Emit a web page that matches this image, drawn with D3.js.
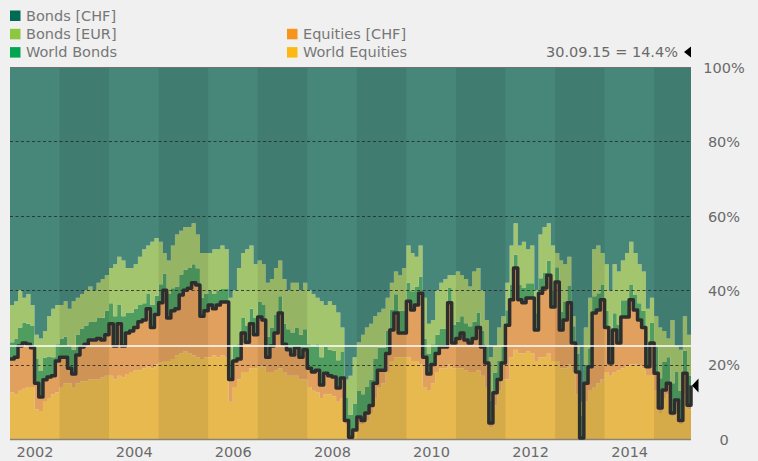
<!DOCTYPE html>
<html>
<head>
<meta charset="utf-8">
<script src="https://cdnjs.cloudflare.com/ajax/libs/d3/7.8.5/d3.min.js"></script>
<style>
body { margin: 0; background: #f0f0f0; }
svg { display: block; font-family: "DejaVu Sans", Verdana, sans-serif; }
</style>
</head>
<body>
<svg></svg>
<script>
var svgWidth = 758;
var svgHeight = 461;
var plot = { left: 10, right: 691, top: 67, bottom: 439 };

/* monthly observations, Jan 2002 .. Sep 2015, plus the closing value of 30.09.15 */
var firstMonth = new Date(2002, 0, 1);
var afterLastMonth = new Date(2015, 9, 1);
var lastDate = new Date(2015, 8, 30);

var worldEquities = [
  12.5, 12, 13, 13.5, 14, 14, 8, 7.5, 10, 11, 12, 12.5,
  14, 15, 15, 14, 15, 15.5, 15.5, 16, 16, 16, 16.5, 17,
  17, 16, 17, 16.5, 17.5, 18, 18.5, 18.5, 19, 19.5, 19, 20,
  20.5, 21, 21, 21.5, 22.5, 23, 23.5, 23, 22.5, 22, 21.5, 22,
  22, 22.5, 22, 22.5, 22, 10, 14, 16, 18, 18, 19, 19,
  19.5, 19.5, 18, 18, 18.5, 19, 18, 17, 17, 17, 16, 16,
  14, 13, 12.5, 11, 12, 12, 11.5, 10, 11, 4, 0.5, 2,
  4, 4, 5, 7, 11, 14, 15, 18, 21, 22, 22, 22,
  22, 21, 21, 20, 14, 13, 15, 18, 19, 19, 20, 19,
  19, 19, 18.5, 18, 18, 18.5, 17, 14, 3, 9, 13, 16,
  16, 22, 24, 23, 23, 23.5, 23, 21, 22, 22, 23, 21,
  21, 19, 19, 20, 18, 12, 0.3, 10, 13, 14, 15, 16,
  18, 17, 18, 18.5, 19, 19.5, 20, 20, 19.5, 19, 17, 17,
  13, 7, 11, 12, 6, 9, 4, 12, 8,
  12
];

/* World Equities + Equities [CHF] (the black line) */
var totalEquity = [
  21.5, 22, 25, 25.8, 25.5, 24.5, 15, 11.3, 15.9, 16.7, 17, 21,
  22, 22, 19, 17.5, 22.6, 24.7, 25.5, 26.6, 26.6, 27, 26.6, 28,
  31, 25, 31, 25, 28.5, 29, 30, 31.5, 32, 35, 30, 33.5,
  36.6, 40, 32.5, 34.5, 35, 38.7, 40, 40.5, 42, 41.4, 33, 34.5,
  36, 35, 36, 36.8, 36.8, 16, 21, 21.5, 28.5, 26, 31, 28,
  32.8, 32, 22, 25, 28.5, 33.9, 25.5, 24, 22.6, 24.5, 22, 24,
  19, 18, 18.5, 14.5, 17.7, 17, 16.7, 13.7, 16.4, 5, 0.5, 2.4,
  5.9, 5, 7, 9, 15, 18.5, 18.5, 23, 29.3, 33.9, 28.5, 28.5,
  37, 34.7, 36, 39.2, 22, 17.5, 20, 23, 24.7, 24.7, 36.6, 25.8,
  27, 28.5, 26.6, 25.8, 27, 30, 24.7, 20.4, 4.3, 12.4, 16, 20.4,
  30.6, 37.4, 46, 37.4, 36.6, 37.9, 37.9, 29.3, 39.2, 40.6, 44, 35.5,
  42.2, 29.3, 32, 36.6, 25.8, 18, 0.3, 15, 19.4, 33.9, 34.7, 37.4,
  30, 20.4, 29.3, 25.8, 32.8, 32.8, 37.4, 34.7, 32, 30, 19.4, 25.8,
  17.7, 8.3, 13.2, 15, 7, 10.5, 5, 17.7, 9.1,
  14.4
];

var worldBonds = [
  4.5, 5, 5, 5.5, 5.5, 6, 6.5, 7, 6, 5.5, 5, 4.5,
  5, 5.5, 6, 6.5, 5.5, 5, 5, 5, 5, 5.5, 6, 6.5,
  5.5, 8, 5, 8, 5.5, 5, 5, 4.5, 4.5, 4, 6, 5,
  5, 4.5, 6.5, 6, 6, 5.5, 5.5, 5.5, 5, 4.5, 5, 4.5,
  4, 4, 4, 3.5, 3.5, 5, 4, 4, 4, 4.5, 4, 4.5,
  4, 4, 5.5, 5, 5, 4.5, 5.5, 5.5, 6, 5.5, 6, 5.5,
  6.5, 7, 7, 7.5, 7, 7, 7, 7.5, 7, 6, 6, 7,
  7, 7, 7, 7, 6.5, 6, 6, 6, 5.5, 5, 6, 6,
  5, 5, 5, 4.5, 5, 5.5, 5.5, 5, 5, 5, 4, 5,
  4.5, 4.5, 4.5, 4.5, 4.5, 4, 4.5, 5, 6, 5.5, 5, 4.5,
  4, 4, 3.5, 4, 4, 4, 4, 4.5, 4, 4, 4, 4.5,
  4, 5, 5, 4.5, 4.5, 5, 6, 5, 5, 4.5, 4.5, 4,
  4.5, 5, 4.5, 5, 4.5, 4.5, 4, 4, 4.5, 4.5, 6, 5.5,
  7, 8, 7.5, 7, 8, 7.5, 8, 6, 8,
  7
];

var bondsEUR = [
  10, 10, 10, 6.7, 8, 5.5, 6.5, 8.7, 7.1, 10.8, 13, 10.5,
  9, 9.5, 10, 13, 9.9, 9.3, 9.5, 9.4, 8.4, 9.5, 10.4, 9.5,
  9.5, 14, 13, 15, 12, 12, 12, 13, 14.5, 13, 17, 15.5,
  11.4, 5.5, 9, 11.5, 14, 11.8, 11.5, 11, 11, 9.1, 12, 11,
  10, 12, 11, 11.7, 10.7, 17, 15, 20.5, 17.5, 20.5, 17, 14.5,
  11.2, 11, 14.5, 13, 12.5, 9.6, 12, 10.5, 13.4, 12, 12, 12.5,
  14.5, 14, 12.5, 15, 11.3, 13, 12.3, 12.8, 6.6, 5, 10.5, 12.6,
  13.1, 16, 16, 15, 11.5, 9.5, 10.5, 9, 7.2, 6.1, 9.5, 11.5,
  10, 10.3, 8, 8.3, 11, 8, 6.5, 12, 12.3, 13.3, 3.4, 13.2,
  13.5, 11, 11.9, 10.7, 13.5, 12, 10.8, 6.6, 11.7, 7.1, 9, 8.1,
  7.4, 10.6, 8.5, 10.6, 12.4, 9.1, 10.1, 6.2, 11.8, 12.4, 10, 12,
  3.8, 13.7, 10, 7.9, 2.7, 2, 3.7, 10, 13.6, 12.6, 12.8, 8.6,
  12.5, 14.6, 13.2, 14.2, 10.7, 12.7, 11.6, 11.3, 10.5, 10.5, 9.6, 6.7,
  8.3, 13.7, 8.3, 5, 17, 7, 11, 9.3, 10.9,
  6.6
];

var seriesKeys = ['worldEquities', 'equitiesCHF', 'worldBonds', 'bondsEUR', 'bondsCHF'];
var areaColors = ['#e8b94f', '#e2a05e', '#4f9d5f', '#a2c56e', '#46877a'];

var legendNames = ['Bonds [CHF]', 'Bonds [EUR]', 'World Bonds', 'Equities [CHF]', 'World Equities'];
var legendColors = ['#006b54', '#8dc63f', '#00a651', '#f7941d', '#fdb913'];
var legendCols = [0, 0, 0, 1, 1];
var legendRows = [0, 1, 2, 1, 2];

var yTicks = [0, 20, 40, 60, 80, 100];
var gridTicks = [20, 40, 60, 80];
var xTickYears = [2002, 2004, 2006, 2008, 2010, 2012, 2014];
var bandYears = [2002, 2003, 2004, 2005, 2006, 2007, 2008, 2009, 2010, 2011, 2012, 2013, 2014, 2015];
var referenceLevel = 25;
var lastLabel = '30.09.15 = 14.4%';

var svg = d3.select('svg')
    .attr('width', svgWidth)
    .attr('height', svgHeight)
    .style('background', '#f0f0f0');

var dates = d3.timeMonth.range(firstMonth, afterLastMonth);
dates.push(lastDate);

var x = d3.scaleTime().domain([firstMonth, lastDate]).range([plot.left, plot.right]);
var y = d3.scaleLinear().domain([0, 100]).range([plot.bottom, plot.top]);

/* Build rows for the stack */
function buildRows(){
    return dates.map((d, i) => ({
        date: d,
        worldEquities: worldEquities[i],
        equitiesCHF: totalEquity[i] - worldEquities[i],
        worldBonds: worldBonds[i],
        bondsEUR: bondsEUR[i],
        bondsCHF: 100 - totalEquity[i] - worldBonds[i] - bondsEUR[i]
    }));
}

/* Draw stacked areas */
function drawAreas(){
    var stacked = d3.stack().keys(seriesKeys)(buildRows());
    var area = d3.area()
        .x(d => x(d.data.date))
        .y0(d => y(d[0]))
        .y1(d => y(d[1]))
        .curve(d3.curveStepAfter);

    svg.append('g').selectAll('path')
        .data(stacked)
        .enter()
        .append('path')
        .attr('d', area)
        .style('fill', (d, i) => areaColors[i]);
}

/* Darken every other year */
function drawBands(){
    svg.append('g').selectAll('rect')
        .data(bandYears.filter(yr => yr % 2 === 1))
        .enter()
        .append('rect')
        .attr('x', yr => x(new Date(yr, 0, 1)))
        .attr('width', yr => x(d3.min([new Date(yr + 1, 0, 1), lastDate])) - x(new Date(yr, 0, 1)))
        .attr('y', plot.top)
        .attr('height', plot.bottom - plot.top)
        .style('fill', '#000')
        .style('opacity', 0.08);
}

function drawGrid(){
    svg.append('g').selectAll('line')
        .data(gridTicks)
        .enter()
        .append('line')
        .attr('x1', plot.left)
        .attr('x2', plot.right)
        .attr('y1', d => Math.round(y(d)) + 0.5)
        .attr('y2', d => Math.round(y(d)) + 0.5)
        .style('stroke', '#2b2b2b')
        .style('stroke-width', 1.2)
        .style('stroke-dasharray', '3,2.5')
        .style('opacity', 0.85);

    svg.append('line')
        .attr('x1', plot.left).attr('x2', plot.right)
        .attr('y1', plot.top + 0.5).attr('y2', plot.top + 0.5)
        .style('stroke', '#707070');

    svg.append('line')
        .attr('x1', plot.left).attr('x2', plot.right)
        .attr('y1', plot.bottom + 0.5).attr('y2', plot.bottom + 0.5)
        .style('stroke', '#8a8572')
        .style('stroke-width', 1.5);
}

function drawEquityLine(){
    var line = d3.line()
        .x(d => x(d.date))
        .y(d => y(d.value))
        .curve(d3.curveStepAfter);

    svg.append('path')
        .datum(dates.map((d, i) => ({ date: d, value: totalEquity[i] })))
        .attr('d', line)
        .style('fill', 'none')
        .style('stroke', '#2e2e2e')
        .style('stroke-width', 3.5)
        .style('stroke-linejoin', 'round');

    // white reference line stays on top
    svg.append('line')
        .attr('x1', plot.left).attr('x2', plot.right)
        .attr('y1', y(referenceLevel)).attr('y2', y(referenceLevel))
        .style('stroke', '#fff')
        .style('stroke-width', 1.5);
}

function drawAxes(){
    var xAxis = d3.axisBottom(x)
        .tickValues(xTickYears.map(yr => new Date(yr, 6, 1)))
        .tickFormat(d3.timeFormat('%Y'))
        .tickSize(0)
        .tickPadding(0);

    var gx = svg.append('g')
        .attr('transform', `translate(0,${plot.bottom})`)
        .call(xAxis);
    gx.select('.domain').remove();
    gx.selectAll('text')
        .attr('dy', null)
        .attr('y', 18)
        .style('font-size', '14.5px')
        .style('font-family', '"DejaVu Sans", Verdana, sans-serif')
        .style('fill', '#6a6a6a');

    var yAxis = d3.axisRight(y)
        .tickValues(yTicks)
        .tickFormat(d => d === 0 ? '0' : d + '%')
        .tickSize(0);

    var gy = svg.append('g')
        .attr('transform', `translate(724,0)`)
        .call(yAxis);
    gy.select('.domain').remove();
    gy.selectAll('text')
        .attr('x', 0)
        .attr('dy', '0.36em')
        .style('text-anchor', 'middle')
        .style('font-size', '14.5px')
        .style('font-family', '"DejaVu Sans", Verdana, sans-serif')
        .style('fill', '#6a6a6a');
}

function drawLegend(){
    var items = svg.append('g').selectAll('g')
        .data(legendNames)
        .enter()
        .append('g')
        .attr('transform', (d, i) => `translate(${legendCols[i] ? 287 : 10},${10.5 + legendRows[i] * 18.3})`);

    items.append('rect')
        .attr('width', 10.5)
        .attr('height', 10.5)
        .style('fill', (d, i) => legendColors[i]);

    items.append('text')
        .text(d => d)
        .attr('x', 16)
        .attr('y', 10.3)
        .style('font-size', '14.5px')
        .style('fill', '#777');
}

function drawMarkers(){
    var lastValue = totalEquity[totalEquity.length - 1];
    var ty = y(lastValue);

    svg.append('text')
        .text(lastLabel)
        .attr('x', 678)
        .attr('y', 56.8)
        .style('text-anchor', 'end')
        .style('font-size', '14.5px')
        .style('fill', '#6a6a6a');

    svg.append('path')
        .attr('d', 'M684,52 L691,46.5 L691,57.5 Z')
        .style('fill', '#000');

    svg.append('path')
        .attr('d', `M${plot.right + 1},${ty} L${plot.right + 7.5},${ty - 7} L${plot.right + 7.5},${ty + 7} Z`)
        .style('fill', '#000');
}

drawAreas();
drawBands();
drawGrid();
drawEquityLine();
drawAxes();
drawLegend();
drawMarkers();
</script>
</body>
</html>
